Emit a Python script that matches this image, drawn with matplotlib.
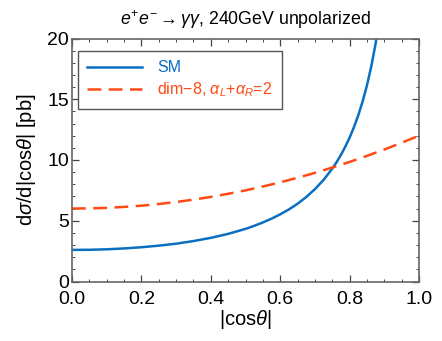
import matplotlib
matplotlib.use("Agg")
import matplotlib.pyplot as plt
import matplotlib.transforms as mtrans
import numpy as np
from matplotlib.ticker import MultipleLocator

plt.rcParams['font.family'] = ['Liberation Sans', 'DejaVu Sans']
plt.rcParams['mathtext.fontset'] = 'custom'
plt.rcParams['mathtext.rm'] = 'Liberation Sans'
plt.rcParams['mathtext.it'] = 'Liberation Sans:italic'
plt.rcParams['mathtext.bf'] = 'Liberation Sans:bold'

# values
cos_sm = [0.0, 0.05, 0.1, 0.15, 0.2, 0.25, 0.3, 0.35, 0.4, 0.45, 0.5, 0.525,
          0.55, 0.575, 0.6, 0.625, 0.65, 0.675, 0.7, 0.725, 0.75, 0.7625,
          0.775, 0.7875, 0.8, 0.8125, 0.825, 0.8375, 0.85, 0.8625, 0.875, 0.89]
xs_sm = [2.60, 2.61, 2.65, 2.72, 2.82, 2.95, 3.11, 3.33, 3.59, 3.92, 4.33, 4.58,
         4.86, 5.17, 5.53, 5.93, 6.40, 6.95, 7.60, 8.36, 9.29, 9.82,
         10.42, 11.09, 11.84, 12.70, 13.68, 14.82, 16.14, 17.71, 19.59, 22.4]

cos_d8 = [0.0, 0.05, 0.1, 0.15, 0.2, 0.25, 0.3, 0.35, 0.4, 0.45, 0.5,
          0.55, 0.6, 0.65, 0.7, 0.75, 0.8, 0.85, 0.9, 0.95, 1.0]
xs_d8 = [6.00, 6.02, 6.06, 6.14, 6.24, 6.38, 6.54, 6.74, 6.96, 7.22, 7.50,
         7.82, 8.16, 8.54, 8.94, 9.38, 9.84, 10.34, 10.86, 11.42, 12.00]

blue = "#0a6fc2"
red = "#ff4a14"

fig = plt.figure(figsize=(4.42, 3.41), dpi=100)
ax = fig.add_axes([72/442, 1-281.5/341, (419-72)/442, (281.5-38.5)/341])

ax.plot(cos_sm, xs_sm, color=blue, lw=1.8, label="SM")
ax.plot(cos_d8, xs_d8, color=red, lw=1.8, dashes=(5.5, 3),
        label=r"dim$-$8, $\alpha_L$+$\alpha_R$=2")

ax.set_xlim(0, 1)
ax.set_ylim(0, 20)
ax.xaxis.set_major_locator(MultipleLocator(0.2))
ax.xaxis.set_minor_locator(MultipleLocator(0.05))
ax.yaxis.set_major_locator(MultipleLocator(5))
ax.yaxis.set_minor_locator(MultipleLocator(1))
ax.set_xticklabels([f"{v:.1f}" for v in ax.get_xticks()])
ax.tick_params(which="both", direction="in", top=True, right=True,
               labelsize=14, color="#444444")
ax.tick_params(which="major", length=5, width=0.9)
ax.tick_params(which="minor", length=2.5, width=0.7)
ax.tick_params(axis="x", pad=6.5)
ax.tick_params(axis="y", pad=2)
for s in ax.spines.values():
    s.set_color("#666666")
    s.set_linewidth(1.2)

# lift the y "0" a little so it clears the "0.0" below it
fig.canvas.draw()
tick0 = ax.yaxis.get_major_ticks()[0]
tick0.label1.set_transform(tick0.label1.get_transform() +
                           mtrans.ScaledTranslation(0, 5/72, fig.dpi_scale_trans))

ax.set_xlabel(r"|cos$\theta$|", fontsize=14.5, labelpad=0)
ax.set_ylabel(r"d$\sigma$/d|cos$\theta$| [pb]", fontsize=14.5, labelpad=7)
ax.set_title(r"$e^{+}e^{-}\rightarrow\gamma\gamma$, 240GeV unpolarized",
             fontsize=12.8, pad=10)

leg = ax.legend(loc="upper left", bbox_to_anchor=(0.017, 0.949),
                borderaxespad=0, fontsize=11.5,
                fancybox=False, framealpha=1, edgecolor="#555555",
                handlelength=3.4, borderpad=0.6, labelspacing=0.3,
                handletextpad=0.95)
leg.get_frame().set_linewidth(1.0)
for txt, c in zip(leg.get_texts(), [blue, red]):
    txt.set_color(c)

fig.savefig("out.png", dpi=100)
